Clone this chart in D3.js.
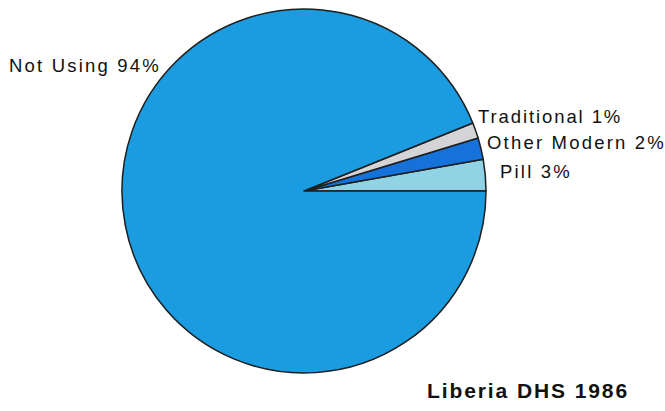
<!DOCTYPE html>
<html>
<head>
<meta charset="utf-8">
<script src="https://cdn.jsdelivr.net/npm/d3@7"></script>
<style>
  html, body { margin: 0; padding: 0; background: #fff; }
  svg { display: block; }
  text { font-family: "Liberation Sans", Arial, sans-serif; fill: #111; }
</style>
</head>
<body>
<svg id="chart" width="665" height="411"></svg>
<script>
// Data (order: counterclockwise from 3 o'clock)
const categories = ["Pill", "Other Modern", "Traditional", "Not Using"];
const values = [2.8, 1.9, 1.4, 93.9];
const labels = ["Pill 3%", "Other Modern 2%", "Traditional 1%", "Not Using 94%"];
const colors = ["#8fd3e4", "#1572db", "#d4d4d6", "#1b9be0"];
const title = "Liberia DHS 1986";

const svg = d3.select("#chart");
const cx = 304, cy = 191, r = 182;

const data = categories.map((c, i) => ({ category: c, value: values[i], label: labels[i], color: colors[i] }));

const pie = d3.pie()
  .sort(null)
  .value(d => d.value)
  .startAngle(Math.PI / 2)
  .endAngle(Math.PI / 2 - 2 * Math.PI);

const arc = d3.arc().innerRadius(0).outerRadius(r);
const arcs = pie(data);

const g = svg.append("g").attr("transform", `translate(${cx},${cy})`);

g.selectAll("path")
  .data(arcs)
  .join("path")
  .attr("d", arc)
  .attr("fill", d => d.data.color)
  .attr("stroke", "#1e1e1e")
  .attr("stroke-width", 1.5)
  .attr("stroke-linejoin", "round");

const labelPos = {
  "Pill": { dx: 196, dy: -13, letter: 2.2 },
  "Other Modern": { dx: 183, dy: -42, letter: 2.2 },
  "Traditional": { dx: 174, dy: -68, letter: 1.9 },
  "Not Using": { dx: -295, dy: -119, letter: 2.2 }
};

g.selectAll("text.lbl")
  .data(arcs)
  .join("text")
  .attr("class", "lbl")
  .attr("x", d => labelPos[d.data.category].dx)
  .attr("y", d => labelPos[d.data.category].dy)
  .attr("font-size", 18.5)
  .attr("letter-spacing", d => labelPos[d.data.category].letter)
  .text(d => d.data.label);

svg.append("text")
  .attr("x", 427)
  .attr("y", 398)
  .attr("font-size", 21)
  .attr("font-weight", "bold")
  .attr("letter-spacing", 1.9)
  .text(title);
</script>
</body>
</html>
